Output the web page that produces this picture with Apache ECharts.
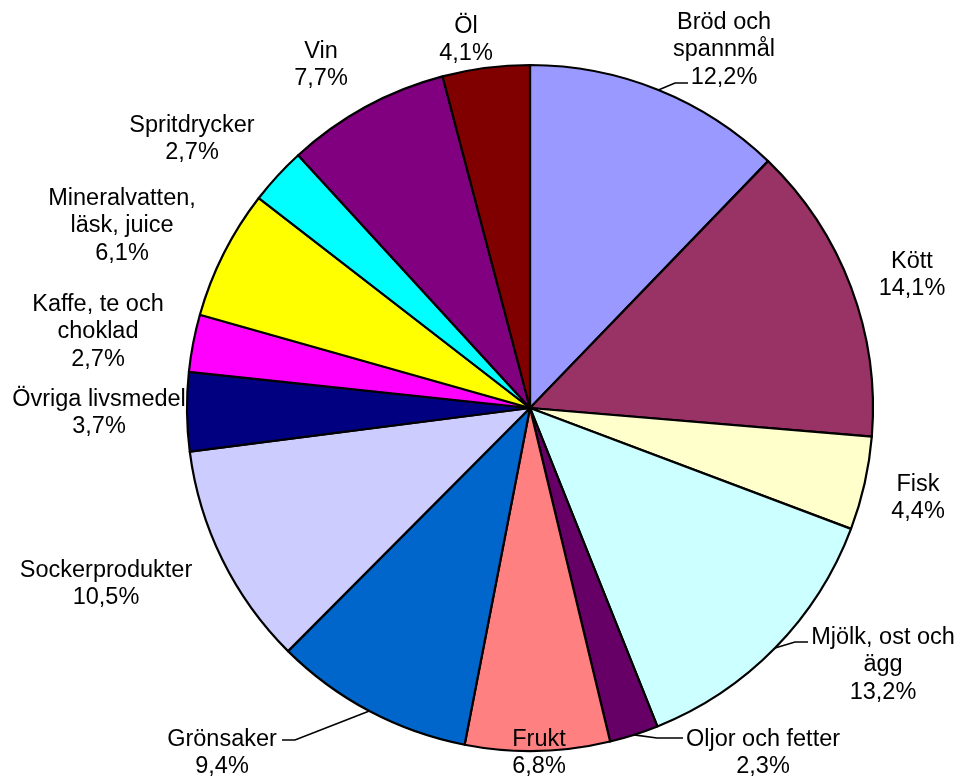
<!DOCTYPE html>
<html>
<head>
<meta charset="utf-8">
<script src="https://cdn.jsdelivr.net/npm/echarts@6/dist/echarts.min.js"></script>
<style>
html,body{margin:0;padding:0;background:#fff;}
#c{width:967px;height:776px;}
</style>
</head>
<body>
<div id="c"></div>
<script>
// Data
var categories = ['Bröd och\nspannmål', 'Kött', 'Fisk', 'Mjölk, ost och\nägg', 'Oljor och fetter', 'Frukt', 'Grönsaker', 'Sockerprodukter', 'Övriga livsmedel', 'Kaffe, te och\nchoklad', 'Mineralvatten,\nläsk, juice', 'Spritdrycker', 'Vin', 'Öl'];
var values = [12.2, 14.1, 4.4, 13.2, 2.3, 6.8, 9.4, 10.5, 3.7, 2.7, 6.1, 2.7, 7.7, 4.1];
var colors = ['#9999FF', '#993366', '#FFFFCC', '#CCFFFF', '#660066', '#FF8080', '#0066CC', '#CCCCFF', '#000080', '#FF00FF', '#FFFF00', '#00FFFF', '#800080', '#800000'];

// Label layout (text block centres) and leader-line bends
var labelCenters = [[724,50],[912,275],[918,498],[883,665],[763,753],[539,753],[222,753],[106,584],[99,413],[98,332],[122,226],[192,139],[321,65],[466,40]];
var leaderBends = {0: [[675,83],[688,83]], 3: [[795,642],[808,642]], 4: [[657,738],[683,738]], 6: [[295,740],[282,740]]};

var data = categories.map(function (c, i) {
  return {
    name: c,
    value: values[i],
    itemStyle: { color: colors[i] },
    labelLine: { show: !!leaderBends[i] }
  };
});

var chart = echarts.init(document.getElementById('c'), null, {renderer: 'canvas'});
chart.setOption({
  animation: false,
  backgroundColor: '#ffffff',
  series: [{
    type: 'pie',
    center: [530, 408],
    radius: 343,
    startAngle: 90,
    clockwise: true,
    avoidLabelOverlap: false,
    itemStyle: { borderColor: '#000', borderWidth: 2.2 },
    emphasis: { disabled: true },
    label: {
      show: true,
      position: 'outside',
      fontFamily: 'Liberation Sans, Arial, sans-serif',
      fontSize: 23.5,
      lineHeight: 27.5,
      color: '#000',
      align: 'center',
      formatter: function (p) {
        return p.name + '\n' + p.value.toFixed(1).replace('.', ',') + '%';
      }
    },
    labelLine: {
      show: false,
      length: 10,
      length2: 10,
      smooth: false,
      lineStyle: { color: '#000000', width: 1.6, opacity: 1 }
    },
    labelLayout: function (p) {
      var i = p.dataIndex;
      var c = labelCenters[i];
      var res = { x: c[0], y: c[1], align: 'center', verticalAlign: 'middle' };
      if (leaderBends[i] && p.labelLinePoints) {
        var s = p.labelLinePoints[0];
        res.labelLinePoints = [[s[0], s[1]], leaderBends[i][0], leaderBends[i][1]];
      }
      return res;
    },
    data: data.map(function (d) {
      d.labelLine.lineStyle = { color: '#000000', width: 1.6 };
      return d;
    })
  }]
});
</script>
</body>
</html>
